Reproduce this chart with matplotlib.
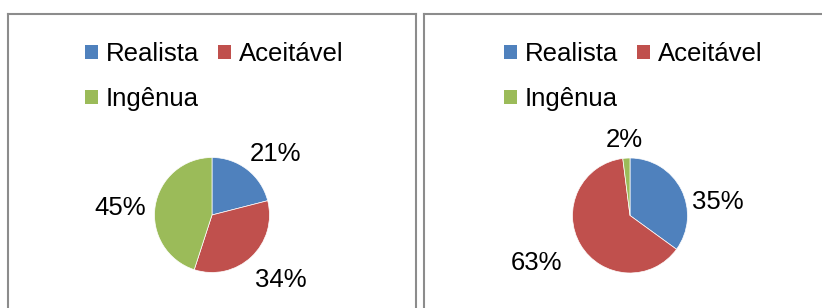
import matplotlib.pyplot as plt
from matplotlib.patches import Patch
from matplotlib.lines import Line2D

plt.rcParams['font.family'] = ['Liberation Sans', 'DejaVu Sans']

categories = ["Realista", "Aceitável", "Ingênua"]
left_values = [21, 34, 45]
right_values = [35, 63, 2]
left_labels = ["21%", "34%", "45%"]
right_labels = ["35%", "63%", "2%"]
colors = ["#4F81BD", "#C0504D", "#9BBB59"]

# label positions (in pie-radius units), hand placed like Excel's best fit
left_pos = [(1.11, 1.06), (1.2, -1.13), (-1.6, 0.12)]
right_pos = [(1.53, 0.23), (-1.62, -0.83), (-0.10, 1.31)]

W, H = 822, 308
fig = plt.figure(figsize=(W / 100, H / 100), dpi=100)

# table-like cell borders
border = "#8c8c8c"
def frame(x0, x1):
    y_top = 1 - 13.5 / H
    fig.add_artist(Line2D([x0 / W, x0 / W], [0, y_top], color=border, lw=1.5))
    fig.add_artist(Line2D([x0 / W, x1 / W], [y_top, y_top], color=border, lw=1.5))
    fig.add_artist(Line2D([x1 / W, x1 / W], [0, y_top], color=border, lw=1.5))

frame(7.5, 415.5)
frame(423.5, 830)

R = 57.5
LIM = 2.2
def pie_panel(cx, cy, values, labels, pos, leg_x):
    size = 2 * R * LIM
    ax = fig.add_axes([(cx - size / 2) / W, (H - cy - size / 2) / H, size / W, size / H])
    ax.pie(values, colors=colors, startangle=90, counterclock=False, radius=1,
           wedgeprops=dict(edgecolor="white", linewidth=0.5))
    ax.set_xlim(-LIM, LIM)
    ax.set_ylim(-LIM, LIM)
    ax.set_aspect("equal")
    ax.axis("off")
    for lab, (x, y) in zip(labels, pos):
        ax.text(x, y, lab, ha="center", va="center", fontsize=18.5, color="black")
    handles = [Patch(facecolor=c, edgecolor="none") for c in colors]
    # column-first fill: Realista / Ingênua in the first column, Aceitável next
    order = [0, 2, 1]
    fig.legend([handles[i] for i in order], [categories[i] for i in order],
               ncol=2, loc="upper left",
               bbox_to_anchor=(leg_x / W, 1 - 42 / H), frameon=False,
               fontsize=18.5, handlelength=0.5, handleheight=0.5,
               handletextpad=0.3, columnspacing=0.75, labelspacing=0.82,
               borderpad=0, borderaxespad=0)

pie_panel(212, 215, left_values, left_labels, left_pos, 85)
pie_panel(630, 215.5, right_values, right_labels, right_pos, 504)

fig.savefig("out.png", dpi=100)
